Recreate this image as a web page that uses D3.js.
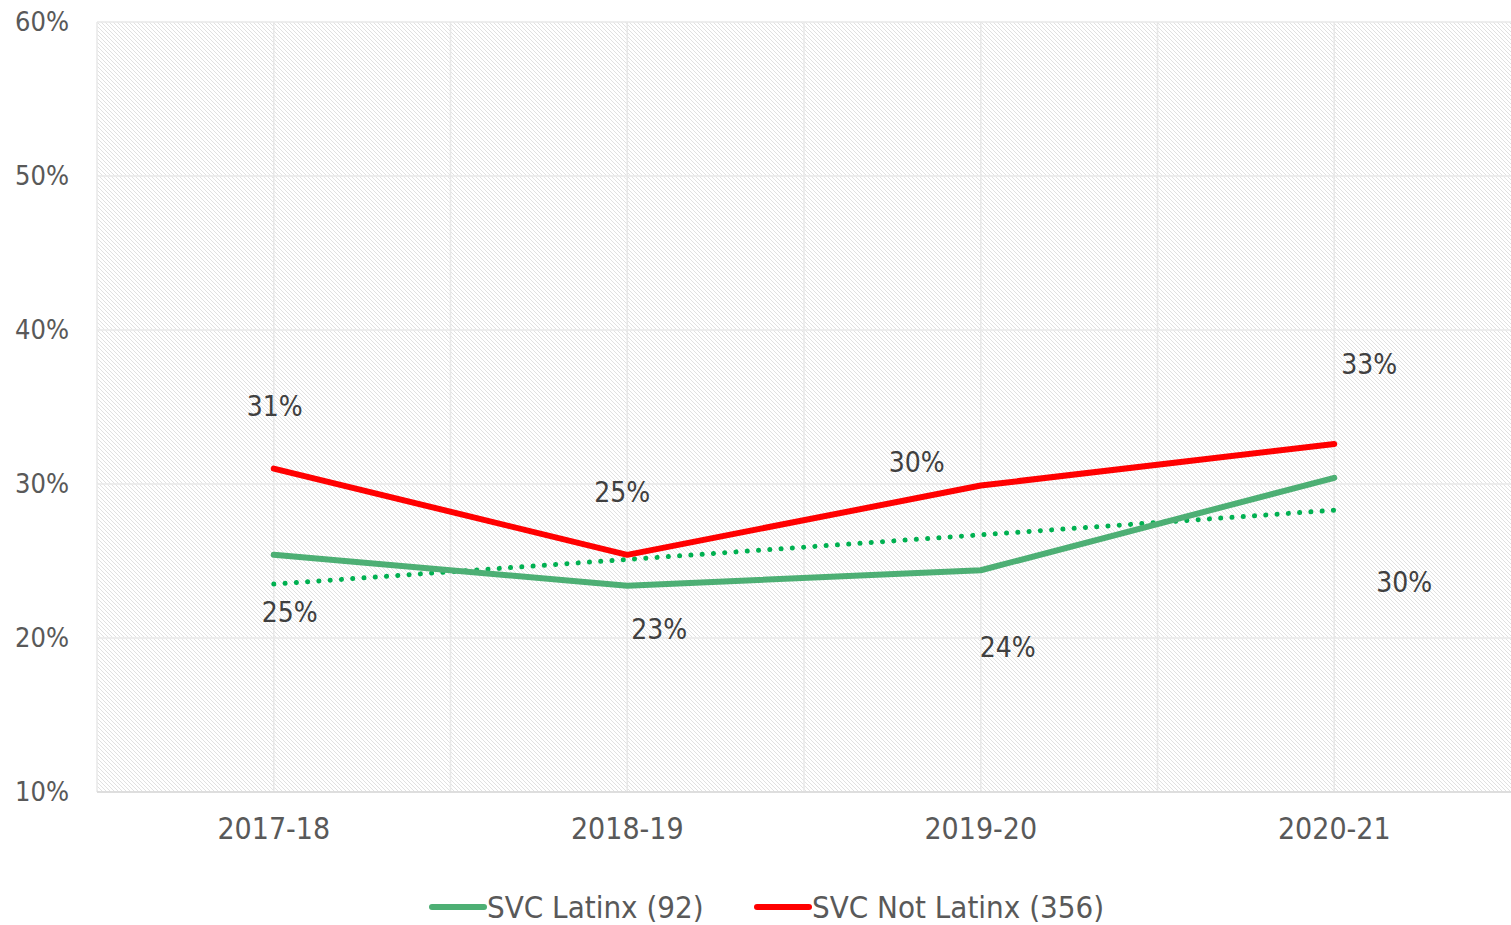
<!DOCTYPE html>
<html>
<head>
<meta charset="utf-8">
<script src="https://cdn.jsdelivr.net/npm/d3@7"></script>
<style>
  body { margin: 0; background: #fff; }
  text { font-family: "DejaVu Sans Condensed", "DejaVu Sans", sans-serif; }
</style>
</head>
<body>
<div id="chart"></div>
<script>
// data
const years = ["2017-18", "2018-19", "2019-20", "2020-21"];
const latinx = [25.4, 23.4, 24.4, 30.4];
const notLatinx = [31.0, 25.4, 29.9, 32.6];
const yTicks = [10, 20, 30, 40, 50, 60];
const seriesNames = ["SVC Latinx (92)", "SVC Not Latinx (356)"];

// label nudges (pixels), like manually placed excel labels
const latinxLabelOffsets = [[16, 58], [32, 44], [27, 77], [70, 105]];
const notLatinxLabelOffsets = [[1, -62], [-5, -62], [-64, -23], [35, -79]];

const W = 1511, H = 925;
const margin = {top: 22, right: 0, bottom: 133, left: 97};
const width = W - margin.left - margin.right,
      height = H - margin.top - margin.bottom;

const svg = d3.select("#chart").append("svg")
  .attr("width", W).attr("height", H);

// hatch pattern for plot background
const defs = svg.append("defs");
defs.append("pattern")
  .attr("id", "hatch")
  .attr("patternUnits", "userSpaceOnUse")
  .attr("width", 4).attr("height", 4)
  .call(p => {
    p.append("path").attr("d", "M-1,-1 L5,5 M-1,3 L1,5 M3,-1 L5,1")
      .attr("stroke", "#dedede").attr("stroke-width", 0.9);
  });

const g = svg.append("g").attr("transform", `translate(${margin.left},${margin.top})`);

const x = d3.scaleBand().domain(years).range([0, width]);
const y = d3.scaleLinear().domain([10, 60]).range([height, 0]);
const cx = d => x(d) + x.bandwidth() / 2;

g.append("rect").attr("width", width).attr("height", height).attr("fill", "url(#hatch)");

// grid lines
g.append("g").selectAll("line").data(yTicks).join("line")
  .attr("x1", 0).attr("x2", width)
  .attr("y1", d => y(d)).attr("y2", d => y(d))
  .attr("stroke", "#e8e8e8").attr("stroke-width", 1.5);

const vLines = [];
years.forEach(d => { vLines.push(x(d)); vLines.push(cx(d)); });
g.append("g").selectAll("line").data(vLines).join("line")
  .attr("x1", d => d).attr("x2", d => d)
  .attr("y1", 0).attr("y2", height)
  .attr("stroke", "#e8e8e8").attr("stroke-width", 1.5);

// bottom axis line
g.append("line").attr("x1", 0).attr("x2", width)
  .attr("y1", height).attr("y2", height)
  .attr("stroke", "#d9d9d9").attr("stroke-width", 1.5);

// y axis labels
const yAxis = g.append("g")
  .call(d3.axisLeft(y).tickValues(yTicks).tickFormat(d => d + "%").tickSize(0).tickPadding(28));
yAxis.select(".domain").remove();
yAxis.selectAll("text").attr("fill", "#595959").style("font-size", "27px");

// x axis labels
const xAxis = g.append("g").attr("transform", `translate(0,${height})`)
  .call(d3.axisBottom(x).tickSize(0).tickPadding(26));
xAxis.select(".domain").remove();
xAxis.selectAll("text").attr("fill", "#595959").style("font-size", "30px");

// linear trendline of the latinx series
const xs = years.map((d, i) => i);
const mx = d3.mean(xs), my = d3.mean(latinx);
const slope = d3.sum(xs, i => (i - mx) * (latinx[i] - my)) / d3.sum(xs, i => (i - mx) * (i - mx));
const intercept = my - slope * mx;
const trend = years.map((d, i) => intercept + slope * i);

const line = d3.line().x((d, i) => cx(years[i])).y(d => y(d));

g.append("path").datum(trend)
  .attr("d", line).attr("fill", "none")
  .attr("stroke", "#00b050").attr("stroke-width", 5)
  .attr("stroke-linecap", "round").attr("stroke-dasharray", "0.1 11.2");

g.append("path").datum(latinx)
  .attr("d", line).attr("fill", "none")
  .attr("stroke", "#4daf74").attr("stroke-width", 6)
  .attr("stroke-linecap", "round").attr("stroke-linejoin", "round");

g.append("path").datum(notLatinx)
  .attr("d", line).attr("fill", "none")
  .attr("stroke", "#ff0000").attr("stroke-width", 6)
  .attr("stroke-linecap", "round").attr("stroke-linejoin", "round");

// data labels
function addLabels(vals, offs) {
  g.append("g").selectAll("text").data(vals).join("text")
    .attr("x", (d, i) => cx(years[i]) + offs[i][0])
    .attr("y", (d, i) => y(d) + offs[i][1])
    .attr("text-anchor", "middle").attr("dominant-baseline", "central")
    .attr("fill", "#404040").style("font-size", "28px")
    .text(d => Math.round(d) + "%");
}
addLabels(latinx, latinxLabelOffsets);
addLabels(notLatinx, notLatinxLabelOffsets);

// legend
const legendColors = ["#4daf74", "#ff0000"];
const legendX = [432, 757];
const legend = svg.append("g").selectAll("g").data(seriesNames).join("g")
  .attr("transform", (d, i) => `translate(${legendX[i]},907)`);
legend.append("line").attr("x1", 0).attr("x2", 52)
  .attr("stroke", (d, i) => legendColors[i]).attr("stroke-width", 6)
  .attr("stroke-linecap", "round");
legend.append("text").attr("x", 55).attr("dominant-baseline", "central")
  .attr("fill", "#595959").style("font-size", "31px").text(d => d);
</script>
</body>
</html>
